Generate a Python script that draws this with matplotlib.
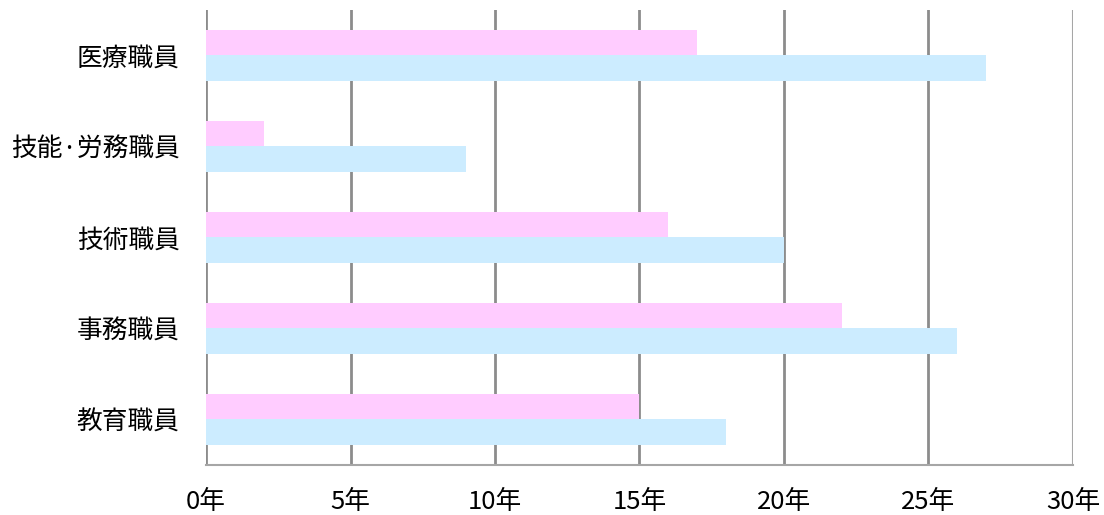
import matplotlib.pyplot as plt
import numpy as np

plt.rcParams['font.family'] = ['Noto Sans CJK JP', 'DejaVu Sans']

categories = ['医療職員', '技能·労務職員', '技術職員', '事務職員', '教育職員']
pink_vals = [17, 2, 16, 22, 15]
blue_vals = [27, 9, 20, 26, 18]
xticks = [0, 5, 10, 15, 20, 25, 30]
xtick_labels = ['0年', '5年', '10年', '15年', '20年', '25年', '30年']

fig = plt.figure(figsize=(11.04, 5.15), dpi=100)
ax = fig.add_axes([0.1866, 0.0971, 0.7853, 0.8835])

y = np.arange(len(categories))
h = 0.285
ax.barh(y - h / 2, pink_vals, height=h, color='#FFCCFF', zorder=3)
ax.barh(y + h / 2, blue_vals, height=h, color='#CCECFF', zorder=3)

ax.set_ylim(len(categories) - 0.5, -0.5)
ax.set_xlim(0, 30)
ax.set_yticks(y)
ax.set_yticklabels(categories, fontsize=18.5)
ax.set_xticks(xticks)
ax.set_xticklabels(xtick_labels, fontsize=18.5)
ax.tick_params(length=0)
ax.tick_params(axis='y', pad=19)
ax.tick_params(axis='x', pad=17)

for x in xticks[:-1]:
    ax.axvline(x, color='#8C8C8C', linewidth=2, zorder=1)
ax.axvline(xticks[-1], color='#A6A6A6', linewidth=1.5, zorder=1)

for s in ['top', 'right', 'left']:
    ax.spines[s].set_visible(False)
ax.spines['bottom'].set_color('#A6A6A6')
ax.spines['bottom'].set_linewidth(1.5)

fig.savefig('out.png', dpi=100)
